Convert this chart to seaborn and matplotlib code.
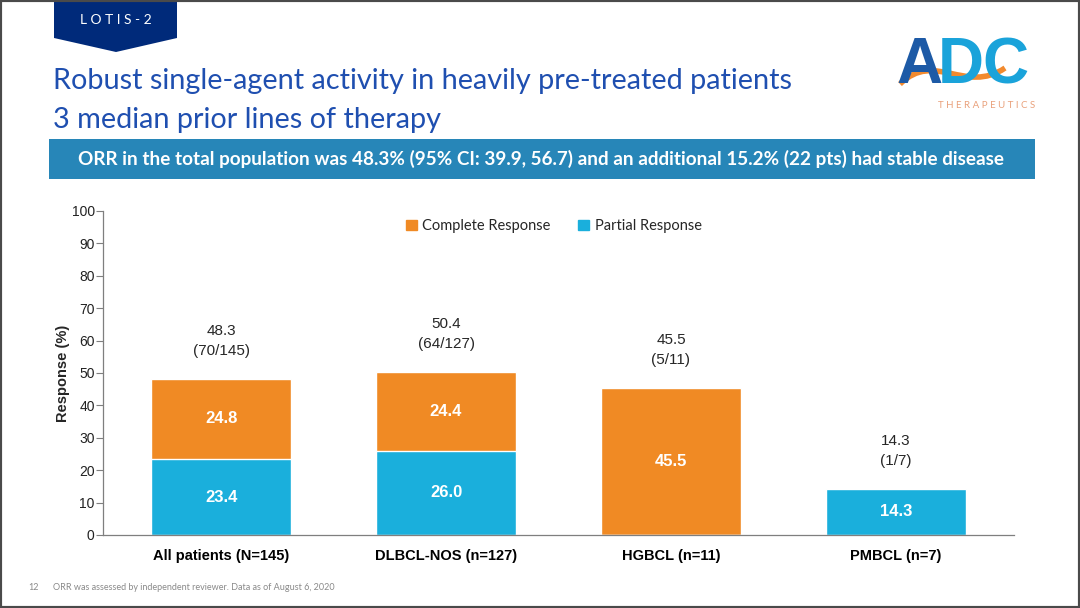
import numpy as np
import pandas as pd
import matplotlib
matplotlib.use('Agg')
import matplotlib.pyplot as plt
from matplotlib.patches import Polygon, Rectangle, PathPatch
from matplotlib.path import Path
import seaborn as sns

# данные
groups = ['All patients (N=145)', 'DLBCL-NOS (n=127)', 'HGBCL (n=11)', 'PMBCL (n=7)']
orr = [48.3, 50.4, 45.5, 14.3]
cr = [24.8, 24.4, 45.5, 0.0]
pr = [23.4, 26.0, 0.0, 14.3]
counts = ['(70/145)', '(64/127)', '(5/11)', '(1/7)']
yticks = [0, 10, 20, 30, 40, 50, 60, 70, 80, 90, 100]

orange = '#F08A24'
blue = '#1AAFDC'

sns.set_style('white')
plt.rcParams['font.family'] = ['Lato', 'DejaVu Sans']

df = pd.DataFrame({'group': groups, 'orr': orr, 'cr': cr, 'pr': pr})

fig = plt.figure(figsize=(10.8, 6.08), dpi=100)
ax = fig.add_axes([103 / 1080, 1 - 535 / 608, (1014 - 103) / 1080, (535 - 211) / 608])

# столбики: сначала полный ORR оранжевым, поверх PR синим
sns.barplot(data=df, x='group', y='orr', color=orange, saturation=1, width=0.622, ax=ax)
sns.barplot(data=df, x='group', y='pr', color=blue, saturation=1, width=0.622, ax=ax)

ax.set_xlim(-0.525, 3.525)
ax.set_ylim(0, 100)
ax.set_yticks(yticks)
ax.set_yticklabels(yticks, fontsize=10, color='#222222', family='Liberation Sans')
ax.set_xticks(range(len(groups)))
ax.set_xticklabels(groups, fontsize=10.5, fontweight='bold', family='Liberation Sans', color='black')
ax.tick_params(axis='y', direction='out', length=5, width=0.8, color='#7f7f7f', left=True, pad=1)
ax.tick_params(axis='x', length=0, pad=10)
ax.set_xlabel('')
ax.set_ylabel('Response (%)', fontsize=10.5, fontweight='bold', family='Liberation Sans', labelpad=1)
for s in ['top', 'right']:
    ax.spines[s].set_visible(False)
for s in ['left', 'bottom']:
    ax.spines[s].set_color('#7f7f7f')
    ax.spines[s].set_linewidth(0.9)

# подписи внутри столбиков
for i in range(len(groups)):
    if pr[i] > 0:
        ax.text(i, pr[i] / 2, f'{pr[i]:.1f}', ha='center', va='center', color='white',
                fontsize=12, fontweight='bold', family='Liberation Sans')
    if cr[i] > 0:
        ax.text(i, pr[i] + (orr[i] - pr[i]) / 2, f'{cr[i]:.1f}', ha='center', va='center',
                color='white', fontsize=12, fontweight='bold', family='Liberation Sans')
    ax.annotate(f'{orr[i]:.1f}\n{counts[i]}', xy=(i, orr[i]), xytext=(0, 15),
                textcoords='offset points', ha='center', va='bottom', fontsize=11,
                family='Liberation Sans', linespacing=1.5)

# легенда
handles = [Rectangle((0, 0), 1, 1, color=orange), Rectangle((0, 0), 1, 1, color=blue)]
ax.legend(handles, ['Complete Response', 'Partial Response'], loc='upper center',
          bbox_to_anchor=(0.495, 1.015), ncol=2, frameon=False, fontsize=10.5,
          handlelength=0.7, handleheight=0.7, handletextpad=0.4, columnspacing=1.9)

# заголовок
fig.text(53 / 1080, 1 - 81 / 608, 'Robust single-agent activity in heavily pre-treated patients',
         fontsize=20.8, color='#1F4FB0', va='center', ha='left')
fig.text(53 / 1080, 1 - 120 / 608, '3 median prior lines of therapy',
         fontsize=20.8, color='#1F4FB0', va='center', ha='left')

# синяя плашка
fig.patches.append(Rectangle((49 / 1080, 1 - 179 / 608), (1035 - 49) / 1080, 40 / 608,
                             transform=fig.transFigure, facecolor='#2786B8', edgecolor='none'))
fig.text(541 / 1080, 1 - 159 / 608,
         'ORR in the total population was 48.3% (95% CI: 39.9, 56.7) and an additional 15.2% (22 pts) had stable disease',
         fontsize=13.6, fontweight='bold', color='white', ha='center', va='center')

# ярлык LOTIS-2
tag = [(54, 0), (177, 0), (177, 38), (116, 52), (54, 38)]
fig.patches.append(Polygon([(x / 1080, 1 - y / 608) for x, y in tag], closed=True,
                           transform=fig.transFigure, facecolor='#002A7A', edgecolor='none'))
fig.text(116 / 1080, 1 - 20 / 608, 'L O T I S - 2', fontsize=10, color='white',
         ha='center', va='center')

# логотип
fig.text(896 / 1080, 1 - 66 / 608, 'A', fontsize=46, fontweight='bold', color='#1D5AA6',
         ha='left', va='center', family='Liberation Sans')
fig.text(938 / 1080, 1 - 66 / 608, 'DC', fontsize=46, fontweight='bold', color='#1AA3DA',
         ha='left', va='center', family='Liberation Sans')
verts = [(900, 84), (935, 50), (965, 95), (1005, 68)]
swoosh = Path([(x / 1080, 1 - y / 608) for x, y in verts],
              [Path.MOVETO, Path.CURVE4, Path.CURVE4, Path.CURVE4])
fig.patches.append(PathPatch(swoosh, transform=fig.transFigure, facecolor='none',
                             edgecolor='#F28A2E', linewidth=4))
fig.text(987 / 1080, 1 - 106 / 608, 'T H E R A P E U T I C S', fontsize=7, color='#E9A07A',
         ha='center', va='center')

# подвал
fig.text(28 / 1080, 1 - 588 / 608, '12', fontsize=6.5, color='#8a8a8a', va='center')
fig.text(53 / 1080, 1 - 588 / 608,
         'ORR was assessed by independent reviewer. Data as of August 6, 2020',
         fontsize=6.5, color='#8a8a8a', va='center')

# рамка
fig.patches.append(Rectangle((0, 0), 1, 1, transform=fig.transFigure, facecolor='none',
                             edgecolor='#4a4a4a', linewidth=3))

plt.savefig('out.png', dpi=100)
